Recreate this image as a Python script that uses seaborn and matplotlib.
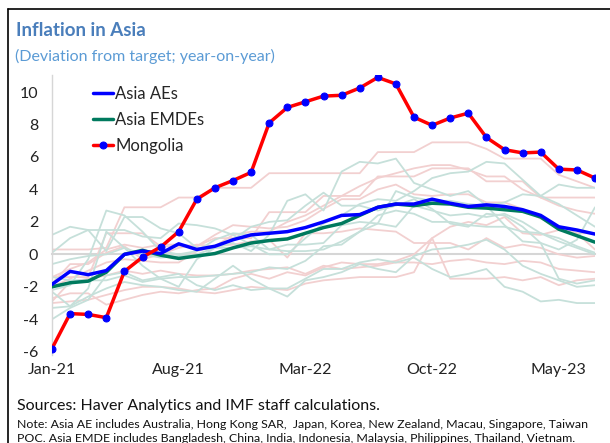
import numpy as np
import pandas as pd
import matplotlib
matplotlib.use("Agg")
import matplotlib.pyplot as plt
from matplotlib.lines import Line2D
import seaborn as sns

# Months Jan-21 .. Jul-23
months = pd.date_range("2021-01-01", periods=31, freq="MS").strftime("%b-%y").tolist()
tick_labels = ["Jan-21", "Aug-21", "Mar-22", "Oct-22", "May-23"]

# Main series (deviation from target, pp)
asia_aes = [-1.85, -1.05, -1.25, -1.0, 0.0, 0.2, 0.05, 0.65, 0.3, 0.5, 0.9, 1.2, 1.3, 1.4, 1.65, 2.0,
            2.4, 2.45, 2.9, 3.1, 3.1, 3.4, 3.15, 2.95, 3.05, 2.95, 2.75, 2.4, 1.7, 1.5, 1.25]
asia_emdes = [-2.0, -1.75, -1.65, -1.1, 0.0, 0.25, -0.05, -0.25, -0.1, 0.05, 0.4, 0.7, 0.85, 0.95, 1.3, 1.65,
              1.9, 2.4, 2.9, 3.1, 3.0, 3.15, 3.1, 2.9, 2.85, 2.75, 2.65, 2.3, 1.55, 1.15, 0.75]
mongolia = [-5.8, -3.65, -3.7, -3.9, -1.05, -0.17, 0.45, 1.4, 3.4, 4.1, 4.55, 5.05, 8.1, 9.05, 9.4, 9.75,
            9.8, 10.25, 10.9, 10.5, 8.45, 7.95, 8.4, 8.7, 7.2, 6.45, 6.25, 6.3, 5.25, 5.2, 4.7]

# Individual economies (faint lines)
ae_countries = {
    "Australia": [-1.4, -1.4, -1.4, 1.3, 1.3, 1.3, 0.5, 0.5, 0.5, 1.0, 1.0, 1.0, 2.6, 2.6, 2.6, 3.6,
                  3.6, 3.6, 4.8, 4.8, 4.8, 5.3, 5.3, 5.3, 4.5, 4.5, 4.5, 3.5, 3.5, 3.5, 3.5],
    "Hong Kong SAR": [-2.9, -1.7, -1.5, -1.3, -1.0, -1.2, -1.0, -1.2, -1.3, -1.3, -1.2, -1.0, -0.9, -0.8, -1.2, -0.7,
                      -0.9, -0.8, -0.7, -0.5, -0.5, -0.6, -0.4, -0.3, -0.5, -0.6, -0.4, -0.5, -0.9, -1.0, -1.1],
    "Japan": [-2.7, -2.4, -2.4, -3.1, -2.8, -2.5, -2.3, -2.4, -2.2, -2.1, -1.5, -1.2, -1.5, -1.1, -1.3, -0.8,
              -0.5, -0.6, -0.6, -0.4, 0.0, 1.0, 1.7, 2.0, 1.8, 2.3, 1.3, 1.2, 1.5, 1.3, 1.3],
    "Korea": [-1.4, -0.9, -0.5, 0.3, 0.6, 0.4, 0.6, 0.6, 0.5, 1.2, 1.8, 1.7, 1.6, 1.7, 2.1, 2.8,
              3.4, 3.4, 4.0, 4.3, 3.7, 3.6, 3.7, 3.7, 3.2, 3.2, 2.8, 2.2, 1.7, 1.3, 0.3],
    "New Zealand": [0.3, 0.3, 0.3, 0.4, 2.9, 2.9, 2.9, 3.5, 3.5, 4.1, 4.1, 4.1, 5.0, 5.0, 5.0, 5.0,
                    5.0, 5.0, 6.3, 6.3, 6.3, 6.9, 6.9, 6.9, 6.5, 5.9, 5.9, 5.9, 4.9, 4.5, 4.1],
    "Macau": [-3.0, -2.9, -2.8, -2.5, -2.2, -2.0, -2.0, -2.1, -2.3, -2.4, -2.2, -2.0, -2.1, -2.2, -1.8, -1.6,
              -1.5, -1.4, -1.4, -1.4, -1.1, 1.0, -1.5, -1.5, -1.5, -1.4, -1.6, -1.4, -1.9, -1.6, -1.5],
    "Singapore": [-2.0, -1.5, -1.0, -0.5, -0.3, -0.4, -0.5, -0.5, 0.2, 0.5, 1.2, 1.4, 1.4, 2.0, 2.4, 3.0,
                  3.6, 4.2, 4.7, 5.0, 5.3, 5.5, 5.5, 5.2, 4.8, 4.8, 4.0, 3.5, 3.0, 2.7, 2.5],
    "Taiwan POC": [-1.8, -0.6, -0.6, 0.1, 0.5, -0.3, 0.0, 0.4, 0.6, 0.5, 0.6, 0.8, 0.9, -0.2, 1.3, 1.3,
                   1.4, 1.6, 1.5, 1.4, 0.7, 0.7, 0.7, 0.3, 1.0, 0.4, 0.6, 0.4, 0.0, -0.2, -0.1],
}
emde_countries = {
    "Bangladesh": [-0.6, -0.3, -0.1, 0.0, 0.4, 0.0, -0.2, -0.1, 0.0, 0.4, 0.4, 0.5, 0.3, 0.6, 0.6, 0.7,
                   1.8, 2.0, 1.9, 3.9, 3.5, 3.3, 3.3, 3.1, 3.0, 3.2, 3.7, 3.6, 4.3, 4.1, 4.1],
    "China": [-3.3, -3.2, -2.6, -2.1, -1.7, -1.9, -2.0, -2.2, -2.3, -1.5, -0.7, -1.5, -2.1, -2.1, -1.5, -0.9,
              -0.9, -0.5, -0.3, -0.5, -0.2, -0.9, -1.4, -1.2, -0.9, -2.0, -2.3, -2.9, -2.8, -3.0, -3.0],
    "India": [0.1, 1.0, 1.5, 0.2, 2.3, 2.3, 1.6, 1.3, 0.4, 0.5, 0.9, 1.7, 2.0, 2.1, 3.0, 3.8,
              3.0, 3.0, 2.7, 3.0, 3.4, 2.8, 1.9, 1.7, 2.5, 2.4, 1.7, 0.7, 0.3, 0.9, 2.9],
    "Indonesia": [-1.4, -1.6, -1.6, -1.6, -1.3, -1.7, -1.5, -1.4, -1.4, -1.3, -1.2, -1.1, -0.8, -0.9, -0.4, 0.5,
                  0.6, 1.4, 1.9, 1.7, 3.0, 2.7, 2.4, 2.5, 2.3, 2.5, 2.0, 1.3, 1.0, 0.5, 0.1],
    "Malaysia": [-2.2, -1.9, -0.3, 2.7, 2.4, 1.4, 0.2, 0.0, 0.2, 0.9, 1.3, 1.2, 0.3, 0.2, 0.2, 0.3,
                 0.8, 1.4, 2.4, 2.7, 2.5, 2.0, 2.0, 1.8, 1.7, 1.7, 1.4, 1.3, 0.8, 0.4, 0.0],
    "Philippines": [1.2, 1.7, 1.5, 1.5, 1.5, 1.1, 1.0, 1.9, 1.8, 1.6, 1.2, 0.6, 0.0, 0.0, 1.0, 1.9,
                    2.4, 3.1, 3.4, 3.3, 3.9, 4.7, 5.0, 5.1, 5.7, 5.6, 4.6, 3.6, 3.1, 2.4, 1.7],
    "Thailand": [-2.3, -3.2, -2.1, 1.4, 0.4, -0.7, -1.5, -2.0, -0.3, 0.4, 0.7, 0.2, 1.2, 3.3, 3.7, 2.7,
                 5.1, 5.7, 5.6, 5.9, 4.4, 4.0, 3.6, 3.9, 3.0, 1.8, 0.8, 0.7, -1.5, -1.8, -1.6],
    "Vietnam": [-4.0, -3.3, -2.8, -1.3, -1.1, -1.6, -1.4, -1.2, -1.9, -2.2, -1.9, -2.2, -2.1, -2.6, -1.6, -1.4,
                -1.1, -0.6, -0.9, -1.1, -0.1, 0.3, 0.4, 0.6, 0.9, 0.3, -0.7, -1.2, -1.6, -2.0, -1.9],
}

x = np.arange(len(months))
tick_pos = [months.index(m) for m in tick_labels]

sns.set_style("white")
plt.rcParams["font.family"] = ["Lato", "DejaVu Sans"]
plt.rcParams["axes.unicode_minus"] = False

fig = plt.figure(figsize=(6.1, 4.43), dpi=100)
ax = fig.add_axes([52 / 610, 1 - 355 / 443, 543 / 610, 280 / 443])

# faint background lines
for name, vals in ae_countries.items():
    sns.lineplot(x=x, y=vals, ax=ax, color="#F2D0D0", lw=1.3, legend=False, zorder=1)
for name, vals in emde_countries.items():
    sns.lineplot(x=x, y=vals, ax=ax, color="#C6E0DA", lw=1.3, legend=False, zorder=1)

# main lines
sns.lineplot(x=x, y=asia_emdes, ax=ax, color="#007A5E", lw=2.5, label="Asia EMDEs", zorder=3)
sns.lineplot(x=x, y=asia_aes, ax=ax, color="#0000FF", lw=2.5, label="Asia AEs", zorder=3)
sns.lineplot(x=x, y=mongolia, ax=ax, color="#FF0000", lw=2.5, marker="o", markersize=5,
             markerfacecolor="#0000FF", markeredgecolor="#0000FF", label="Mongolia", zorder=4)

ax.set_xlim(0, len(months) - 1)
ax.set_ylim(-6.2, 11.05)
ax.set_yticks(range(-6, 11, 2))
ax.set_ylabel("")
ax.set_xlabel("")

# zero line acting as x axis with tick marks
for s in ["top", "right"]:
    ax.spines[s].set_visible(False)
ax.spines["bottom"].set_position(("data", 0))
ax.spines["bottom"].set_color("#D6D6D6")
ax.spines["bottom"].set_linewidth(1.5)
ax.spines["bottom"].set_zorder(0)
ax.spines["left"].set_color("#D6D6D6")
ax.spines["left"].set_linewidth(1.0)
ax.set_xticks(tick_pos)
ax.tick_params(axis="x", direction="in", length=4, color="#BBBBBB", labelbottom=False)
ax.tick_params(axis="y", direction="out", length=3, color="#BBBBBB", labelsize=11.5,
               labelcolor="#222222", pad=7)

sec = ax.secondary_xaxis(0)
sec.set_xticks(tick_pos, tick_labels)
sec.tick_params(length=0, pad=6, labelsize=11.5, labelcolor="#222222")
sec.spines["bottom"].set_visible(False)

# legend in order AEs, EMDEs, Mongolia
h, l = ax.get_legend_handles_labels()
order = [l.index("Asia AEs"), l.index("Asia EMDEs"), l.index("Mongolia")]
ax.legend([h[i] for i in order], [l[i] for i in order], loc="upper left",
          bbox_to_anchor=(0.075, 0.962), frameon=False, fontsize=12, handlelength=1.2,
          handletextpad=0.15, labelspacing=0.6, borderpad=0, borderaxespad=0)

# titles and notes
fig.text(16 / 610, 1 - 31 / 443, "Inflation in Asia", fontsize=13.5, fontweight="bold",
         color="#4A7EBB", va="center", ha="left")
fig.text(15 / 610, 1 - 56 / 443, "(Deviation from target; year-on-year)", fontsize=11.5,
         color="#5B9BD5", va="center", ha="left")
fig.text(17 / 610, 1 - 406 / 443, "Sources: Haver Analytics and IMF staff calculations.",
         fontsize=11.5, color="#111111", va="center", ha="left")
fig.text(17 / 610, 1 - 425 / 443,
         "Note: Asia AE includes Australia, Hong Kong SAR,  Japan, Korea, New Zealand, Macau, Singapore, Taiwan",
         fontsize=8.9, color="#111111", va="center", ha="left")
fig.text(17 / 610, 1 - 438 / 443,
         "POC. Asia EMDE includes Bangladesh, China, India, Indonesia, Malaysia, Philippines, Thailand, Vietnam.",
         fontsize=8.9, color="#111111", va="center", ha="left")

# frame lines (top and left)
fig.add_artist(Line2D([8 / 610, 8 / 610], [0, 1 - 9 / 443], transform=fig.transFigure, color="black", lw=1.2))
fig.add_artist(Line2D([8 / 610, 1], [1 - 9 / 443, 1 - 9 / 443], transform=fig.transFigure, color="black", lw=1.2))

fig.savefig("out.png", dpi=100)
